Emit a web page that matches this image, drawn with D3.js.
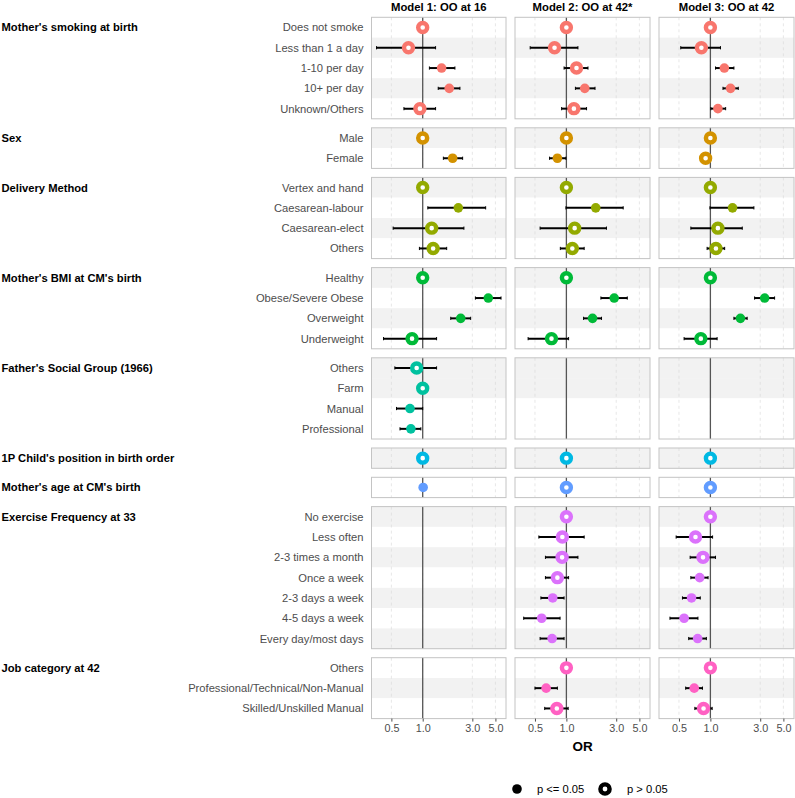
<!DOCTYPE html>
<html>
<head>
<meta charset="utf-8">
<script src="https://cdn.jsdelivr.net/npm/d3@7"></script>
<style>
  body { margin: 0; background: #fff; }
  svg text { font-family: "Liberation Sans", Arial, sans-serif; }
</style>
</head>
<body>
<svg id="chart" width="795" height="798"></svg>
<script>
// models (facet columns)
const models = ["Model 1: OO at 16", "Model 2: OO at 42*", "Model 3: OO at 42"];

// variable groups (facet rows) and their levels
const groups = [
  "Mother's smoking at birth", "Sex", "Delivery Method", "Mother's BMI at CM's birth",
  "Father's Social Group (1966)", "1P Child's position in birth order",
  "Mother's age at CM's birth", "Exercise Frequency at 33", "Job category at 42"
];
const groupLevels = [
  ["Does not smoke", "Less than 1 a day", "1-10 per day", "10+ per day", "Unknown/Others"],
  ["Male", "Female"],
  ["Vertex and hand", "Caesarean-labour", "Caesarean-elect", "Others"],
  ["Healthy", "Obese/Severe Obese", "Overweight", "Underweight"],
  ["Others", "Farm", "Manual", "Professional"],
  [""],
  [""],
  ["No exercise", "Less often", "2-3 times a month", "Once a week", "2-3 days a week", "4-5 days a week", "Every day/most days"],
  ["Others", "Professional/Technical/Non-Manual", "Skilled/Unskilled Manual"]
];
const groupColors = ["#F8766D", "#D39200", "#93AA00", "#00BA38", "#00C19F", "#00B9E3", "#619CFF", "#DB72FB", "#FF61C3"];

// shaded background rows (top to bottom, all groups)
const shaded = [0,1,0,1,0, 1,0, 1,0,1,0, 1,0,1,0, 1,1,0,0, 1, 0, 1,0,1,0,1,0,1, 0,1,0];

// [OR, lower CI, upper CI, p<=0.05] per row, null = not in model
const model1 = [
  [1,1,1,0], [0.73,0.36,1.33,0], [1.52,1.16,2.04,1], [1.80,1.41,2.28,1], [0.94,0.66,1.33,0],
  [1,1,1,0], [1.94,1.58,2.42,1],
  [1,1,1,0], [2.20,1.12,4.03,1], [1.22,0.52,2.49,0], [1.26,0.93,1.70,0],
  [1,1,1,0], [4.27,3.21,5.66,1], [2.32,1.86,2.89,1], [0.79,0.42,1.36,0],
  [0.875,0.54,1.36,0], [1,1,1,0], [0.755,0.56,1.0,1], [0.77,0.605,0.96,1],
  [1,1,1,0],
  [1.01,1.0,1.02,1],
  null, null, null, null, null, null, null,
  null, null, null
];
const model2 = [
  [1,1,1,0], [0.77,0.45,1.29,0], [1.25,0.95,1.61,0], [1.50,1.22,1.88,1], [1.18,0.90,1.56,0],
  [1,1,1,0], [0.82,0.69,0.99,1],
  [1,1,1,0], [1.91,0.99,3.50,1], [1.20,0.56,2.42,0], [1.14,0.875,1.48,0],
  [1,1,1,0], [2.87,2.14,3.83,1], [1.78,1.46,2.17,1], [0.72,0.43,1.05,0],
  null, null, null, null,
  [1,1,1,0],
  [1,1,1,0],
  [1,1,1,0], [0.915,0.545,1.48,0], [0.91,0.63,1.29,0], [0.82,0.63,1.05,0], [0.74,0.57,0.95,1], [0.58,0.39,0.87,1], [0.73,0.56,0.95,1],
  [1,1,1,0], [0.64,0.50,0.82,1], [0.81,0.62,1.04,0]
];
const model3 = [
  [1,1,1,0], [0.82,0.52,1.25,0], [1.36,1.12,1.68,1], [1.56,1.32,1.85,1], [1.18,1.01,1.40,1],
  [1,1,1,0], [0.90,0.87,0.93,0],
  [1,1,1,0], [1.63,0.99,2.61,1], [1.18,0.65,2.02,0], [1.13,0.93,1.37,0],
  [1,1,1,0], [3.31,2.65,4.12,1], [1.94,1.68,2.25,1], [0.81,0.56,1.16,0],
  null, null, null, null,
  [1,1,1,0],
  [1,1,1,0],
  [1,1,1,0], [0.72,0.47,1.05,0], [0.85,0.64,1.12,0], [0.79,0.65,0.95,1], [0.66,0.54,0.80,1], [0.56,0.41,0.76,1], [0.755,0.62,0.915,1],
  [1,1,1,0], [0.70,0.58,0.84,1], [0.86,0.71,1.04,0]
];
const modelData = [model1, model2, model3];

const ticks = [0.5, 1, 3, 5];
const orDomain = [0.322, 6.32];

// layout
const panelX = [[371.5, 506], [515, 650], [659, 794]];
const top0 = 17.3, rowH = 20.3, gap = 9;

const svg = d3.select("#chart");

// panel vertical positions
let yCursor = top0;
const panelY = groups.map((g, i) => {
  const t = yCursor, b = t + groupLevels[i].length * rowH;
  yCursor = b + gap;
  return [t, b];
});

// flat row list
let idx = 0;
const rows = [];
groups.forEach((g, gi) => {
  groupLevels[gi].forEach((lvl, li) => {
    rows.push({ gi, li, lvl, idx: idx, shade: shaded[idx] });
    idx++;
  });
});

const xScales = panelX.map(r => d3.scaleLog().domain(orDomain).range(r));
const yScales = panelY.map((r, i) => d3.scaleBand().domain(groupLevels[i].map((d, j) => j)).range(r).padding(0));

// strip titles
svg.append("g").selectAll("text")
  .data(models)
  .join("text")
    .attr("x", (d, i) => (panelX[i][0] + panelX[i][1]) / 2)
    .attr("y", 10.5)
    .attr("text-anchor", "middle")
    .style("font-size", "11.3px")
    .style("font-weight", "bold")
    .text(d => d);

// group labels
svg.append("g").selectAll("text")
  .data(groups)
  .join("text")
    .attr("x", 1.5)
    .attr("y", (d, i) => yScales[i](0) + rowH / 2 + 4)
    .style("font-size", "11.2px")
    .style("font-weight", "bold")
    .attr("fill", "#000")
    .text(d => d);

// row labels
svg.append("g").selectAll("text")
  .data(rows)
  .join("text")
    .attr("x", 363.5)
    .attr("y", d => yScales[d.gi](d.li) + rowH / 2 + 4)
    .attr("text-anchor", "end")
    .style("font-size", "11.2px")
    .attr("fill", "#4d4d4d")
    .text(d => d.lvl);

models.forEach((m, mi) => {
  const x = xScales[mi];
  const g = svg.append("g");

  groups.forEach((grp, gi) => {
    const y = yScales[gi];
    const [t, b] = panelY[gi];

    // background stripes
    g.append("g").selectAll("rect")
      .data(rows.filter(r => r.gi === gi))
      .join("rect")
        .attr("x", panelX[mi][0])
        .attr("width", panelX[mi][1] - panelX[mi][0])
        .attr("y", d => y(d.li))
        .attr("height", y.bandwidth())
        .attr("fill", d => d.shade ? "#f2f2f2" : "#fff");

    // dashed grid
    g.append("g").selectAll("line")
      .data(ticks)
      .join("line")
        .attr("x1", d => x(d)).attr("x2", d => x(d))
        .attr("y1", t).attr("y2", b)
        .attr("stroke", "#d6d6d6")
        .attr("stroke-width", 0.6)
        .attr("stroke-dasharray", "3,3");

    // reference line at OR = 1
    g.append("line")
      .attr("x1", x(1)).attr("x2", x(1))
      .attr("y1", t).attr("y2", b)
      .attr("stroke", "#555")
      .attr("stroke-width", 1.3);

    // border
    g.append("rect")
      .attr("x", panelX[mi][0]).attr("y", t)
      .attr("width", panelX[mi][1] - panelX[mi][0])
      .attr("height", b - t)
      .attr("fill", "none")
      .attr("stroke", "#c4c4c4")
      .attr("stroke-width", 1);

    const pts = rows.filter(r => r.gi === gi && modelData[mi][r.idx])
      .map(r => ({ r, v: modelData[mi][r.idx] }));

    // error bars
    const eb = g.append("g").selectAll("g")
      .data(pts.filter(d => d.v[1] !== d.v[2]))
      .join("g")
        .attr("stroke", "#000")
        .attr("stroke-width", 2);
    eb.append("line")
      .attr("x1", d => x(d.v[1])).attr("x2", d => x(d.v[2]))
      .attr("y1", d => y(d.r.li) + rowH / 2).attr("y2", d => y(d.r.li) + rowH / 2);
    [1, 2].forEach(k => {
      eb.append("line")
        .attr("stroke-width", 1)
        .attr("x1", d => x(d.v[k])).attr("x2", d => x(d.v[k]))
        .attr("y1", d => y(d.r.li) + rowH / 2 - 1.6).attr("y2", d => y(d.r.li) + rowH / 2 + 1.6);
    });

    // points
    g.append("g").selectAll("circle")
      .data(pts)
      .join("circle")
        .attr("cx", d => x(d.v[0]))
        .attr("cy", d => y(d.r.li) + rowH / 2)
        .attr("r", d => d.v[3] ? 4.8 : 4.5)
        .attr("fill", d => d.v[3] ? groupColors[gi] : "#fff")
        .attr("stroke", groupColors[gi])
        .attr("stroke-width", d => d.v[3] ? 0 : 4.4);
  });

  // x axis
  const axisY = panelY[panelY.length - 1][1];
  const axis = svg.append("g")
    .attr("transform", `translate(0,${axisY})`)
    .call(d3.axisBottom(x).tickValues(ticks).tickFormat(d3.format(".1f")).tickSize(3).tickPadding(3));
  axis.select(".domain").remove();
  axis.selectAll(".tick line").attr("stroke", "#4d4d4d");
  axis.selectAll(".tick text")
    .attr("fill", "#4d4d4d")
    .style("font-size", "10.8px")
    .style("font-family", "Liberation Sans, Arial, sans-serif");
});

// axis title
svg.append("text")
  .attr("x", (panelX[1][0] + panelX[1][1]) / 2)
  .attr("y", 751)
  .attr("text-anchor", "middle")
  .style("font-size", "13.5px")
  .style("font-weight", "bold")
  .text("OR");

// legend
const legend = svg.append("g").attr("transform", "translate(517,789)");
legend.append("circle").attr("cx", 0).attr("cy", 0).attr("r", 4.8).attr("fill", "#000");
legend.append("text").attr("x", 20).attr("y", 4).style("font-size", "11.2px").text("p <= 0.05");
legend.append("circle").attr("cx", 88).attr("cy", 0).attr("r", 4.6)
  .attr("fill", "#fff").attr("stroke", "#000").attr("stroke-width", 4.4);
legend.append("text").attr("x", 110).attr("y", 4).style("font-size", "11.2px").text("p > 0.05");
</script>
</body>
</html>
